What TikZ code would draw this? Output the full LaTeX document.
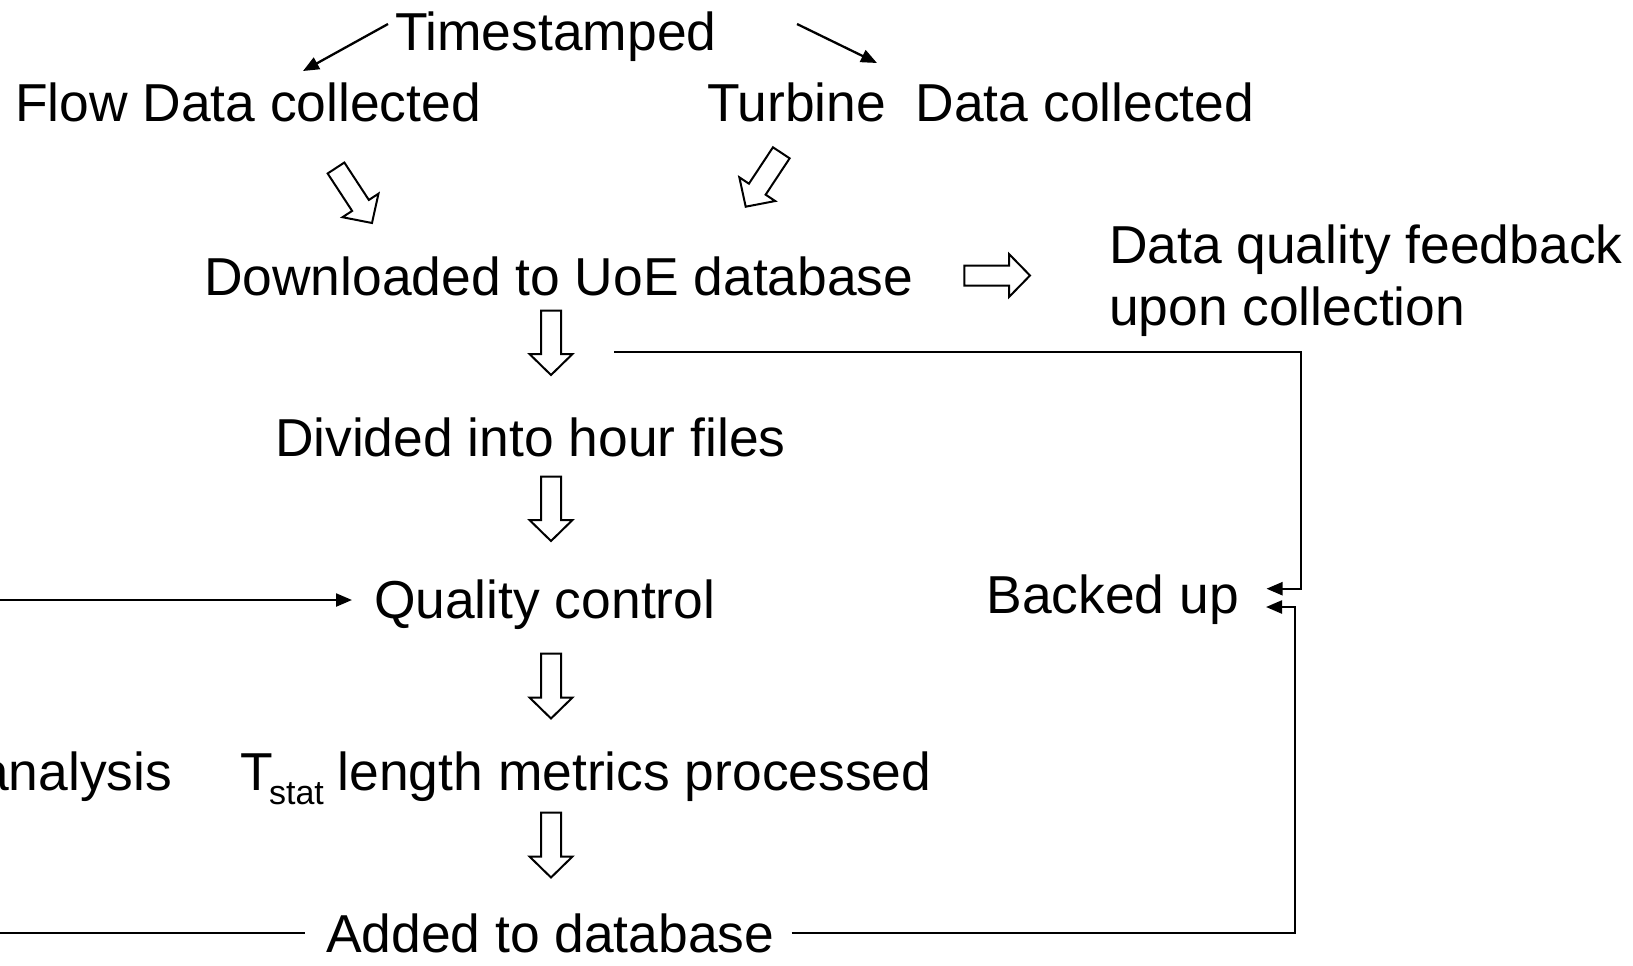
\documentclass[tikz,border=0pt]{standalone}
\usepackage{fontspec}
\setmainfont{Liberation Sans}
\usetikzlibrary{calc,arrows.meta}
\tikzset{
  txt/.style={inner sep=0pt, outer sep=0pt, anchor=base west, font=\fontsize{26.7pt}{31pt}\selectfont},
  conn/.style={line width=1.15pt, -{Triangle[length=8pt,width=6.5pt]}},
  plain/.style={line width=1.15pt},
  blk/.style={draw, line width=1pt, fill=white, line join=miter, to path={
    ($(\tikztostart)!5pt!90:(\tikztotarget)$) --
    ($($(\tikztotarget)!10.5pt!(\tikztostart)$)!5pt!90:(\tikztotarget)$) --
    ($($(\tikztotarget)!10.5pt!(\tikztostart)$)!10.75pt!90:(\tikztotarget)$) --
    (\tikztotarget) --
    ($($(\tikztotarget)!10.5pt!(\tikztostart)$)!10.75pt!-90:(\tikztotarget)$) --
    ($($(\tikztotarget)!10.5pt!(\tikztostart)$)!5pt!-90:(\tikztotarget)$) --
    ($(\tikztostart)!5pt!-90:(\tikztotarget)$) -- cycle}}
}
\begin{document}
\begin{tikzpicture}[x=0.5pt,y=-0.5pt]
\useasboundingbox (0,0) rectangle (1633,965);

% texts
\node[txt] (ts)    at (395,50)    {Timestamped};
\node[txt] (flow)  at (15,121.5)  {Flow Data collected};
\node[txt] (turb)  at (707,121.5) {Turbine\ \ Data collected};
\node[txt] (dl)    at (204,295)   {Downloaded to UoE database};
\node[txt] (dq1)   at (1109,263)  {Data quality feedback};
\node[txt] (dq2)   at (1109,325)  {upon collection};
\node[txt] (div)   at (275,456.5) {Divided into hour files};
\node[txt] (qc)    at (374,618.5) {Quality control};
\node[txt] (bu)    at (986.5,613) {Backed up};
\node[txt, anchor=base east] (ana) at (172,790) {analysis};
\node[txt] (tstat) at (240.5,790) {T\kern-2pt\raisebox{-7pt}{\fontsize{17pt}{20pt}\selectfont stat}\kern-0.5pt{} length metrics processed};
\node[txt] (add)   at (326,952.5) {Added to database};

% coordinates for connector ends
\coordinate (tsL) at (388,24);
\coordinate (flowT) at (303,71);
\coordinate (tsR) at (797,24);
\coordinate (turbT) at (877,63);

\coordinate (b1s) at (336,168);   \coordinate (b1e) at (372,223);
\coordinate (b2s) at (781.3,152.8); \coordinate (b2e) at (745.7,206.7);
\coordinate (b3s) at (964.3,275.5); \coordinate (b3e) at (1030,275.5);
\coordinate (d1s) at (551,310.7); \coordinate (d1e) at (551,375);
\coordinate (d2s) at (551,476.5); \coordinate (d2e) at (551,541);
\coordinate (d3s) at (551,653.5); \coordinate (d3e) at (551,718.5);
\coordinate (d4s) at (551,812.5); \coordinate (d4e) at (551,877.5);

\coordinate (upS) at (614.3,352.3);
\coordinate (upC1) at (1300.7,352.3);
\coordinate (upC2) at (1300.7,588.7);
\coordinate (buT1) at (1266.5,588.7);
\coordinate (loS) at (791.5,933);
\coordinate (loC1) at (1295,933);
\coordinate (loC2) at (1295,607);
\coordinate (buT2) at (1266,607);
\coordinate (leftA) at (-5,600);
\coordinate (qcT) at (352,600);
\coordinate (leftB) at (-5,933);
\coordinate (addL) at (305,933);

% thin arrows
\draw[conn] (tsL) -- (flowT);
\draw[conn] (tsR) -- (turbT);

% block arrows
\draw[blk] (b1s) to (b1e);
\draw[blk] (b2s) to (b2e);
\draw[blk] (b3s) to (b3e);
\draw[blk] (d1s) to (d1e);
\draw[blk] (d2s) to (d2e);
\draw[blk] (d3s) to (d3e);
\draw[blk] (d4s) to (d4e);

% backup lines
\draw[conn] (upS) -- (upC1) -- (upC2) -- (buT1);
\draw[conn] (loS) -- (loC1) -- (loC2) -- (buT2);
\draw[conn] (leftA) -- (qcT);
\draw[plain] (leftB) -- (addL);
\end{tikzpicture}
\end{document}
